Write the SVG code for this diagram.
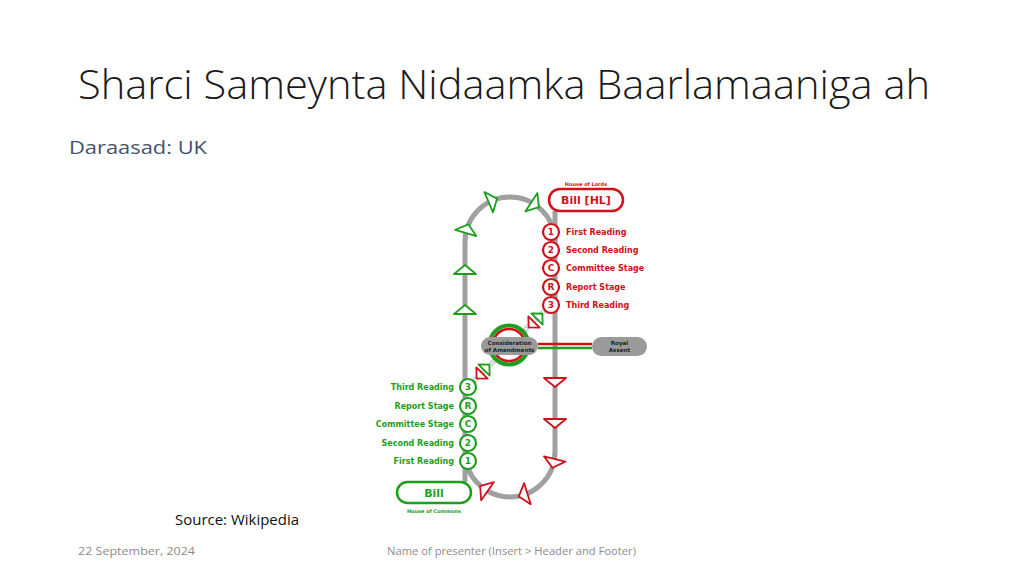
<svg xmlns="http://www.w3.org/2000/svg" width="1024" height="576" viewBox="0 0 1024 576">
<defs>
<style>
.title{font-family:"Open Sans","Liberation Sans",sans-serif;font-size:40px;font-weight:300;fill:#1a1a1a}
.sub{font-family:"Open Sans","Liberation Sans",sans-serif;font-size:19px;fill:#44546a}
.src{font-family:"Open Sans","Liberation Sans",sans-serif;font-size:14px;fill:#111}
.foot{font-family:"Open Sans","Liberation Sans",sans-serif;font-size:11px;fill:#8c8c8c}
.lbl{font-family:"DejaVu Sans",sans-serif;font-weight:bold;font-size:8px}
.num{font-family:"DejaVu Sans",sans-serif;font-weight:bold;font-size:9px;text-anchor:middle}
.tiny{font-family:"DejaVu Sans",sans-serif;font-weight:bold;font-size:5px;text-anchor:middle}
.pill{font-family:"DejaVu Sans",sans-serif;font-weight:bold;font-size:5.6px;text-anchor:middle;fill:#222}
.red{fill:#d0101a}
.green{fill:#1e9e1e}
.stR{fill:#fff;stroke:#d0101a;stroke-width:2.2}
.stG{fill:#fff;stroke:#1e9e1e;stroke-width:2.2}
.triG{fill:#fff;stroke:#1e9e1e;stroke-width:1.8;stroke-linejoin:round}
.triR{fill:#fff;stroke:#d0101a;stroke-width:1.8;stroke-linejoin:round}
.track{fill:none;stroke:#a0a0a0;stroke-width:5}
</style>
<path id="tri" d="M0,-5 L11,4 L-11,4 Z"/>
<path id="stri" d="M0,-4 L8,3.5 L-8,3.5 Z"/>
</defs>
<rect width="1024" height="576" fill="#fff"/>

<text class="title" x="78" y="99" textLength="852" lengthAdjust="spacingAndGlyphs">Sharci Sameynta Nidaamka Baarlamaaniga ah</text>
<text class="sub" x="69" y="154" textLength="138" lengthAdjust="spacingAndGlyphs">Daraasad: UK</text>
<text class="src" x="175" y="525" textLength="124" lengthAdjust="spacingAndGlyphs">Source: Wikipedia</text>
<text class="foot" x="78" y="555" textLength="117" lengthAdjust="spacingAndGlyphs">22 September, 2024</text>
<text class="foot" x="387" y="555" textLength="249" lengthAdjust="spacingAndGlyphs">Name of presenter (Insert &gt; Header and Footer)</text>

<g id="connectors">
<path class="track" d="M465,482 L465,242 A45,45 0 0 1 555,242 L555,452 A45,45 0 0 1 465,452"/>
<path class="track" d="M555,211 L555,242"/>
<path d="M550,305 L468,387" fill="none" stroke="#c8c8c8" stroke-width="5"/>
<path d="M550,305 L468,387" fill="none" stroke="#fff" stroke-width="3" stroke-dasharray="1.5 1.5"/>
<path d="M538,344 L592,344" stroke="#d0101a" stroke-width="2.5"/>
<path d="M538,348 L592,348" stroke="#1e9e1e" stroke-width="2.5"/>
<g id="arrows-green">
<use href="#tri" class="triG" transform="translate(465,270)"/>
<use href="#tri" class="triG" transform="translate(465,310)"/>
<use href="#tri" class="triG" transform="translate(466.9,229.1) rotate(16.6)"/>
<use href="#tri" class="triG" transform="translate(492.4,200.6) rotate(67)"/>
<use href="#tri" class="triG" transform="translate(534.7,204.4) rotate(123.3)"/>
<use href="#stri" class="triG" transform="translate(539.5,316.5) rotate(45)"/>
<use href="#stri" class="triG" transform="translate(486.5,367.5) rotate(45)"/>
</g>
<g id="arrows-red">
<use href="#tri" class="triR" transform="translate(555,382) rotate(180)"/>
<use href="#tri" class="triR" transform="translate(555,423) rotate(180)"/>
<use href="#tri" class="triR" transform="translate(553.7,462.9) rotate(194)"/>
<use href="#tri" class="triR" transform="translate(523.6,494.9) rotate(252.4)"/>
<use href="#tri" class="triR" transform="translate(484.2,488.9) rotate(305)"/>
<use href="#stri" class="triR" transform="translate(531.5,324.5) rotate(225)"/>
<use href="#stri" class="triR" transform="translate(479.5,375.5) rotate(225)"/>
</g>
</g>

<g id="bill-hl">
<text class="tiny red" x="586" y="186">House of Lords</text>
<rect x="549" y="189" width="74" height="22" rx="11" fill="#fff" stroke="#d0101a" stroke-width="2.5"/>
<text class="lbl red" x="586" y="204" style="font-size:11px;text-anchor:middle">Bill [HL]</text>
</g>

<g id="lords-stages">
<circle class="stR" cx="551" cy="232" r="8"/><text class="num red" x="551" y="235.3">1</text>
<text class="lbl red" x="566" y="235">First Reading</text>
<circle class="stR" cx="551" cy="250" r="8"/><text class="num red" x="551" y="253.3">2</text>
<text class="lbl red" x="566" y="253">Second Reading</text>
<circle class="stR" cx="551" cy="268" r="8"/><text class="num red" x="551" y="271.3">C</text>
<text class="lbl red" x="566" y="271">Committee Stage</text>
<circle class="stR" cx="551" cy="287" r="8"/><text class="num red" x="551" y="290.3">R</text>
<text class="lbl red" x="566" y="290">Report Stage</text>
<circle class="stR" cx="551" cy="305" r="8"/><text class="num red" x="551" y="308.3">3</text>
<text class="lbl red" x="566" y="308">Third Reading</text>
</g>

<g id="commons-stages">
<circle class="stG" cx="468" cy="387" r="8"/><text class="num green" x="468" y="390.3">3</text>
<text class="lbl green" x="454" y="390" text-anchor="end">Third Reading</text>
<circle class="stG" cx="468" cy="406" r="8"/><text class="num green" x="468" y="409.3">R</text>
<text class="lbl green" x="454" y="409" text-anchor="end">Report Stage</text>
<circle class="stG" cx="468" cy="424" r="8"/><text class="num green" x="468" y="427.3">C</text>
<text class="lbl green" x="454" y="427" text-anchor="end">Committee Stage</text>
<circle class="stG" cx="468" cy="443" r="8"/><text class="num green" x="468" y="446.3">2</text>
<text class="lbl green" x="454" y="446" text-anchor="end">Second Reading</text>
<circle class="stG" cx="468" cy="461" r="8"/><text class="num green" x="468" y="464.3">1</text>
<text class="lbl green" x="454" y="464" text-anchor="end">First Reading</text>
</g>

<g id="bill">
<rect x="397" y="482" width="74" height="21" rx="10.5" fill="#fff" stroke="#1e9e1e" stroke-width="2.5"/>
<text class="lbl green" x="434" y="496.5" style="font-size:11px;text-anchor:middle">Bill</text>
<text class="tiny green" x="434" y="513">House of Commons</text>
</g>

<g id="consideration">
<circle cx="509" cy="345" r="19.5" fill="#fff" stroke="#1e9e1e" stroke-width="4"/>
<circle cx="509" cy="345" r="16" fill="none" stroke="#d0101a" stroke-width="2.5"/>
<rect x="481" y="337" width="57" height="18" rx="9" fill="#9a9a9a"/>
<text class="pill" x="509.5" y="344.5">Consideration</text>
<text class="pill" x="509.5" y="351.5">of Amendments</text>
</g>

<g id="royal-assent">
<rect x="592" y="337" width="55" height="19" rx="9.5" fill="#9a9a9a"/>
<text class="pill" x="619.5" y="344.5">Royal</text>
<text class="pill" x="619.5" y="351.5">Assent</text>
</g>
</svg>
